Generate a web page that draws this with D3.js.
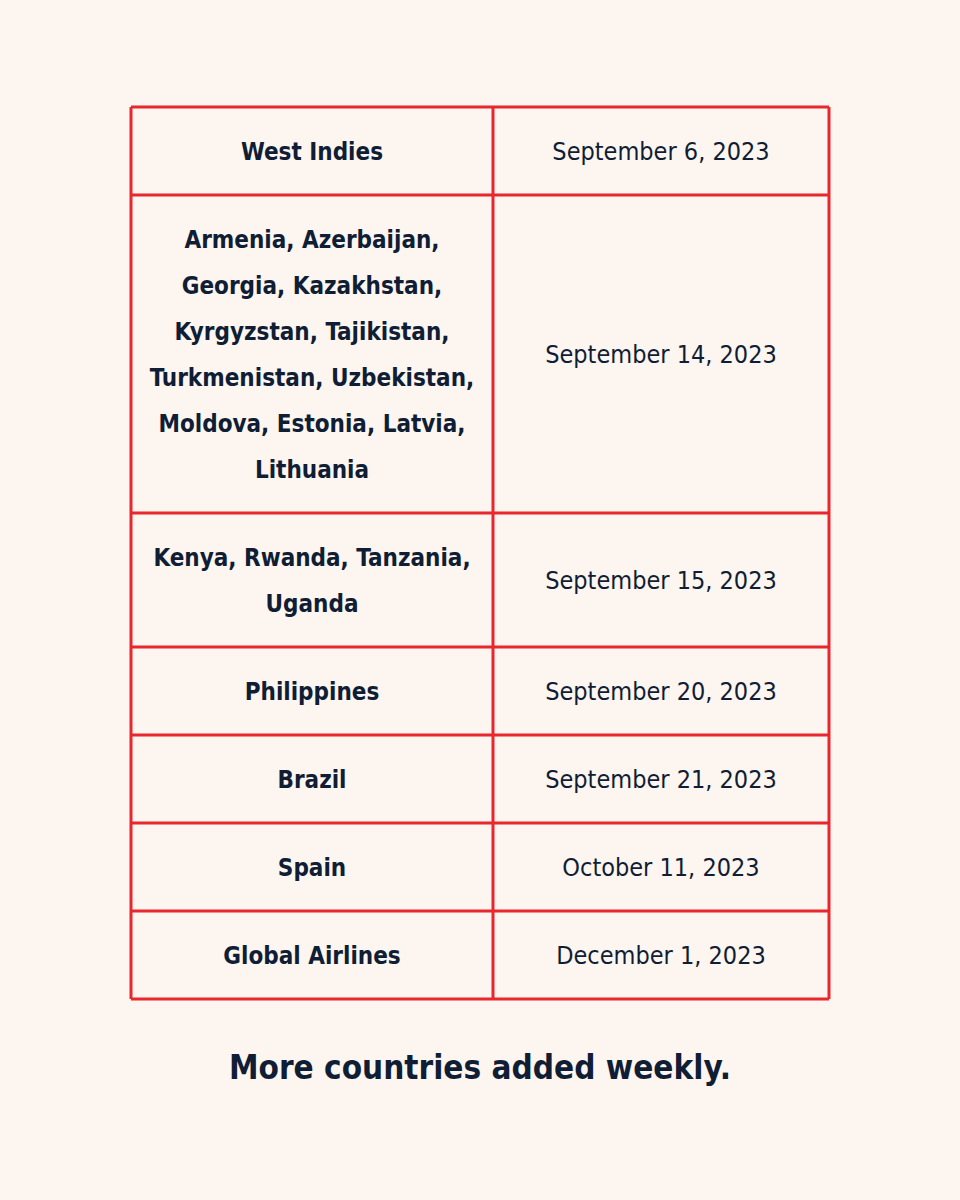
<!DOCTYPE html>
<html>
<head>
<meta charset="utf-8">
<script src="https://cdn.jsdelivr.net/npm/d3@7"></script>
<style>
  body { margin: 0; background: #fdf5ef; }
  text { font-family: "DejaVu Sans Condensed", "DejaVu Sans", sans-serif; fill: #0f1d35; }
</style>
</head>
<body>
<svg id="chart" width="960" height="1200"></svg>
<script>
// regions, each with its line breaks as in the picture
const regions = [
  ["West Indies"],
  ["Armenia, Azerbaijan,", "Georgia, Kazakhstan,", "Kyrgyzstan, Tajikistan,", "Turkmenistan, Uzbekistan,", "Moldova, Estonia, Latvia,", "Lithuania"],
  ["Kenya, Rwanda, Tanzania,", "Uganda"],
  ["Philippines"],
  ["Brazil"],
  ["Spain"],
  ["Global Airlines"]
];
const dates = [
  "September 6, 2023",
  "September 14, 2023",
  "September 15, 2023",
  "September 20, 2023",
  "September 21, 2023",
  "October 11, 2023",
  "December 1, 2023"
];
const footer = "More countries added weekly.";

const svg = d3.select("#chart");
const tLeft = 131, tMid = 493, tRight = 829, tTop = 107;
const lineH = 46, pad = 42;

// row offsets from line counts
let yPos = tTop;
const rows = regions.map((r, i) => {
  const h = pad + lineH * r.length;
  const row = { y: yPos, h: h, lines: r, date: dates[i] };
  yPos += h;
  return row;
});
const tBottom = yPos;

const g = svg.append("g");

rows.forEach(row => {
  const cy = row.y + row.h / 2;
  const t = g.append("text")
    .attr("text-anchor", "middle")
    .attr("font-weight", "bold")
    .attr("font-size", 24);
  row.lines.forEach((l, k) => {
    t.append("tspan")
      .attr("x", (tLeft + tMid) / 2)
      .attr("y", cy + (k - (row.lines.length - 1) / 2) * lineH + 9)
      .text(l);
  });
  g.append("text")
    .attr("x", (tMid + tRight) / 2)
    .attr("y", cy + 9)
    .attr("text-anchor", "middle")
    .attr("font-size", 25)
    .text(row.date);
});

// grid lines
const red = "#e8272e";
g.selectAll("line.h").data(rows.map(r => r.y).concat([tBottom])).join("line")
  .attr("x1", tLeft).attr("x2", tRight)
  .attr("y1", d => d).attr("y2", d => d)
  .attr("stroke", red).attr("stroke-width", 3);
g.selectAll("line.v").data([tLeft, tMid, tRight]).join("line")
  .attr("x1", d => d).attr("x2", d => d)
  .attr("y1", tTop).attr("y2", tBottom)
  .attr("stroke", red).attr("stroke-width", 3);

svg.append("text")
  .attr("x", 480).attr("y", 1079)
  .attr("text-anchor", "middle")
  .attr("font-weight", "bold")
  .attr("font-size", 33)
  .text(footer);
</script>
</body>
</html>
